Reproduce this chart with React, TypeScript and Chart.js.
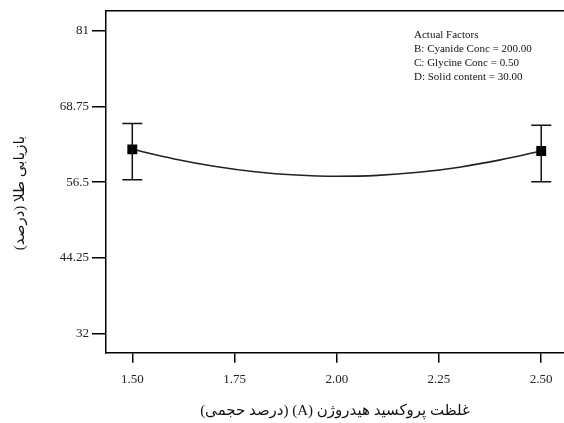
import React, { useEffect, useRef } from "react";
import { Chart, registerables } from "chart.js";

Chart.register(...registerables);

const xTickValues = [1.5, 1.75, 2.0, 2.25, 2.5];
const xTickLabels = ["1.50", "1.75", "2.00", "2.25", "2.50"];
const yTickValues = [32, 44.25, 56.5, 68.75, 81];
const yTickLabels = ["32", "44.25", "56.5", "68.75", "81"];

const curveX = [1.5, 1.6, 1.7, 1.8, 1.9, 2.0, 2.1, 2.2, 2.3, 2.4, 2.5];
const curveY = [61.82, 60.31, 59.09, 58.2, 57.66, 57.46, 57.6, 58.1, 58.93, 60.11, 61.56];

const factorX = [1.5, 2.5];
const factorY = [61.82, 61.56];
const errHigh = [65.99, 65.74];
const errLow = [56.9, 56.58];

const xTitle = "غلظت پروکسید هیدروژن (A) (درصد حجمی)";
const yTitle = "بازیابی طلا (درصد)";
const factorLines = [
  "Actual Factors",
  "B: Cyanide Conc = 200.00",
  "C: Glycine Conc = 0.50",
  "D: Solid content = 30.00",
];

const SERIF = "'Liberation Serif', 'Times New Roman', serif";
const ARABIC = "'Liberation Serif', 'DejaVu Sans', serif";

export default function App() {
  const ref = useRef<HTMLCanvasElement | null>(null);

  useEffect(() => {
    const canvas = ref.current;
    if (!canvas) return;

    const decor = {
      id: "decor",
      afterDatasetsDraw(chart: any) {
        const ctx = chart.ctx;
        const xs = chart.scales.x;
        const ys = chart.scales.y;
        const area = chart.chartArea;
        ctx.save();
        // top border
        ctx.strokeStyle = "#000";
        ctx.lineWidth = 1.5;
        ctx.beginPath();
        ctx.moveTo(area.left - 0.75, area.top);
        ctx.lineTo(area.right, area.top);
        ctx.stroke();
        // error bars
        ctx.lineWidth = 1.5;
        ctx.strokeStyle = "#111";
        for (let i = 0; i < factorX.length; i++) {
          const px = xs.getPixelForValue(factorX[i]);
          const pt = ys.getPixelForValue(errHigh[i]);
          const pb = ys.getPixelForValue(errLow[i]);
          ctx.beginPath();
          ctx.moveTo(px, pt);
          ctx.lineTo(px, pb);
          ctx.moveTo(px - 10, pt);
          ctx.lineTo(px + 10, pt);
          ctx.moveTo(px - 10, pb);
          ctx.lineTo(px + 10, pb);
          ctx.stroke();
        }
        // annotation text
        ctx.fillStyle = "#111";
        ctx.font = "11px " + SERIF;
        ctx.textAlign = "left";
        ctx.textBaseline = "middle";
        factorLines.forEach((t, i) => {
          ctx.fillText(t, 414, 35.5 + i * 14);
        });
        // x title
        ctx.font = "15px " + ARABIC;
        ctx.textAlign = "center";
        ctx.direction = "rtl";
        ctx.fillText(xTitle, (area.left + area.right) / 2, 411);
        // y title
        ctx.translate(20, 193);
        ctx.rotate(-Math.PI / 2);
        ctx.fillText(yTitle, 0, 0);
        ctx.restore();
      },
    };

    const chart = new Chart(canvas, {
      type: "scatter",
      data: {
        datasets: [
          {
            data: factorX.map((x, i) => ({ x, y: factorY[i] })),
            showLine: false,
            pointStyle: "rect",
            pointRadius: 7,
            backgroundColor: "#000",
            borderColor: "#000",
            borderWidth: 0,
            order: 0,
          },
          {
            data: curveX.map((x, i) => ({ x, y: curveY[i] })),
            showLine: true,
            pointRadius: 0,
            borderColor: "#222",
            borderWidth: 1.6,
            tension: 0.4,
            cubicInterpolationMode: "monotone",
            order: 1,
          },
        ],
      },
      options: {
        responsive: false,
        animation: false,
        devicePixelRatio: 1,
        layout: { autoPadding: false, padding: { top: 8, left: 0, right: 0, bottom: 0 } },
        plugins: {
          legend: { display: false },
          tooltip: { enabled: false },
        },
        scales: {
          x: {
            type: "linear",
            min: 1.4357,
            max: 2.5557,
            afterBuildTicks: (s: any) => {
              s.ticks = xTickValues.map((v) => ({ value: v }));
            },
            afterFit: (s: any) => {
              s.height = 70.3;
            },
            ticks: {
              callback: (_v: any, i: number) => xTickLabels[i],
              color: "#222",
              font: { family: SERIF, size: 13 },
              padding: 9,
              maxRotation: 0,
            },
            grid: {
              drawOnChartArea: false,
              drawTicks: true,
              tickLength: 10,
              color: "#000",
              lineWidth: 1.5,
            },
            border: { display: true, color: "#000", width: 1.5 },
          },
          y: {
            type: "linear",
            min: 28.88,
            max: 84.26,
            afterBuildTicks: (s: any) => {
              s.ticks = yTickValues.map((v) => ({ value: v }));
            },
            afterFit: (s: any) => {
              s.width = 106;
            },
            ticks: {
              callback: (_v: any, i: number) => yTickLabels[i],
              color: "#222",
              font: { family: SERIF, size: 13 },
              padding: 3,
            },
            grid: {
              drawOnChartArea: false,
              drawTicks: true,
              tickLength: 14,
              color: "#000",
              lineWidth: 1.5,
            },
            border: { display: true, color: "#000", width: 1.5 },
          },
        },
      },
      plugins: [decor],
    });
    return () => chart.destroy();
  }, []);

  return (
    <div style={{ position: "fixed", left: 0, top: 0, width: 564, height: 423, background: "#fff" }}>
      <canvas ref={ref} width={564} height={423} style={{ display: "block", width: 564, height: 423 }} />
    </div>
  );
}
